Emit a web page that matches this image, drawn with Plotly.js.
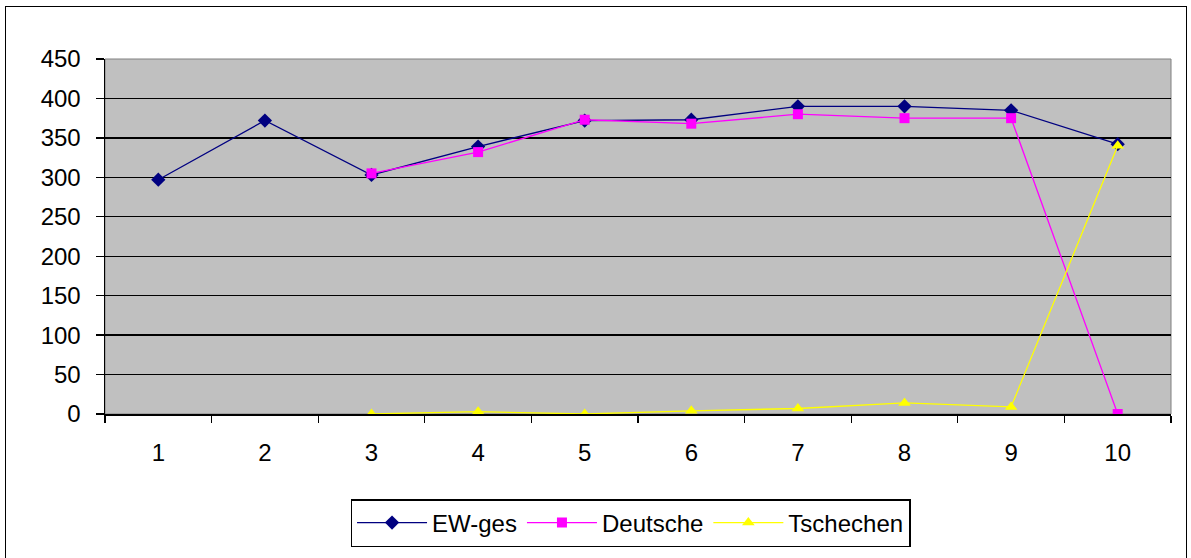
<!DOCTYPE html>
<html><head><meta charset="utf-8">
<script src="https://cdn.plot.ly/plotly-3.0.1.min.js"></script>
<style>
html,body{margin:0;padding:0;background:#fff;overflow:hidden;}
#chart{position:absolute;left:0;top:0;width:1191px;height:558px;}
#frame{position:absolute;left:5px;top:6px;width:1180px;height:560px;border:1px solid #000;pointer-events:none;}
</style></head>
<body>
<div id="chart"></div>
<div id="frame"></div>
<script>
const categories = [1, 2, 3, 4, 5, 6, 7, 8, 9, 10];
const ewGes = [297, 372, 303, 339, 372, 373, 390, 390, 385, 342];
const deutsche = [null, null, 305, 332, 373, 368, 380, 375, 375, 0];
const tschechen = [null, null, 0, 3, 0, 4, 7, 14, 9, 340];
const seriesNames = ['EW-ges', 'Deutsche', 'Tschechen'];

const font = {family: 'Liberation Sans, Arial, sans-serif', size: 24, color: '#000'};

const traces = [
  {x: categories, y: ewGes, name: seriesNames[0], type: 'scatter', mode: 'lines+markers',
   line: {color: '#000080', width: 1.3}, marker: {symbol: 'diamond', size: 11, color: '#000080'}},
  {x: categories, y: deutsche, name: seriesNames[1], type: 'scatter', mode: 'lines+markers',
   line: {color: '#FF00FF', width: 1.3}, marker: {symbol: 'square', size: 10, color: '#FF00FF'}},
  {x: categories, y: tschechen, name: seriesNames[2], type: 'scatter', mode: 'lines+markers',
   line: {color: '#FFFF00', width: 1.3}, marker: {symbol: 'triangle-up', size: 11, color: '#FFFF00'}}
];

const layout = {
  width: 1191, height: 558,
  margin: {l: 105, r: 20, t: 59, b: 143},
  paper_bgcolor: '#fff', plot_bgcolor: '#C0C0C0',
  font: font,
  showlegend: true,
  legend: {orientation: 'h', x: 0.493, xanchor: 'center', y: -0.236, yanchor: 'top',
    bordercolor: '#000', borderwidth: 1.5, bgcolor: '#fff', font: font,
    itemwidth: 70, tracegroupgap: 0},
  xaxis: {range: [0.5, 10.5], tickvals: categories, ticktext: categories.map(String),
    ticks: '', showgrid: false, zeroline: false, showline: true, linecolor: '#000', linewidth: 1.5,
    tickfont: font, ticklabelstandoff: 17,
    minor: {tick0: 0.5, dtick: 1, ticks: 'outside', ticklen: 7, tickcolor: '#000', tickwidth: 1.3, showgrid: false}},
  yaxis: {range: [0, 450], dtick: 50, tick0: 0, ticks: 'outside', ticklen: 8, tickcolor: '#000', tickwidth: 1.3,
    showgrid: true, gridcolor: '#000', gridwidth: 1.4, zeroline: false,
    showline: true, linecolor: '#000', linewidth: 1.5, tickfont: font, ticklabelstandoff: 10},
  shapes: [
    {type: 'rect', xref: 'paper', yref: 'paper', x0: 0, x1: 1, y0: 0, y1: 1,
     line: {color: '#808080', width: 1}, layer: 'below'}
  ]
};

Plotly.newPlot('chart', traces, layout, {displayModeBar: false, staticPlot: true});
</script>
</body></html>
